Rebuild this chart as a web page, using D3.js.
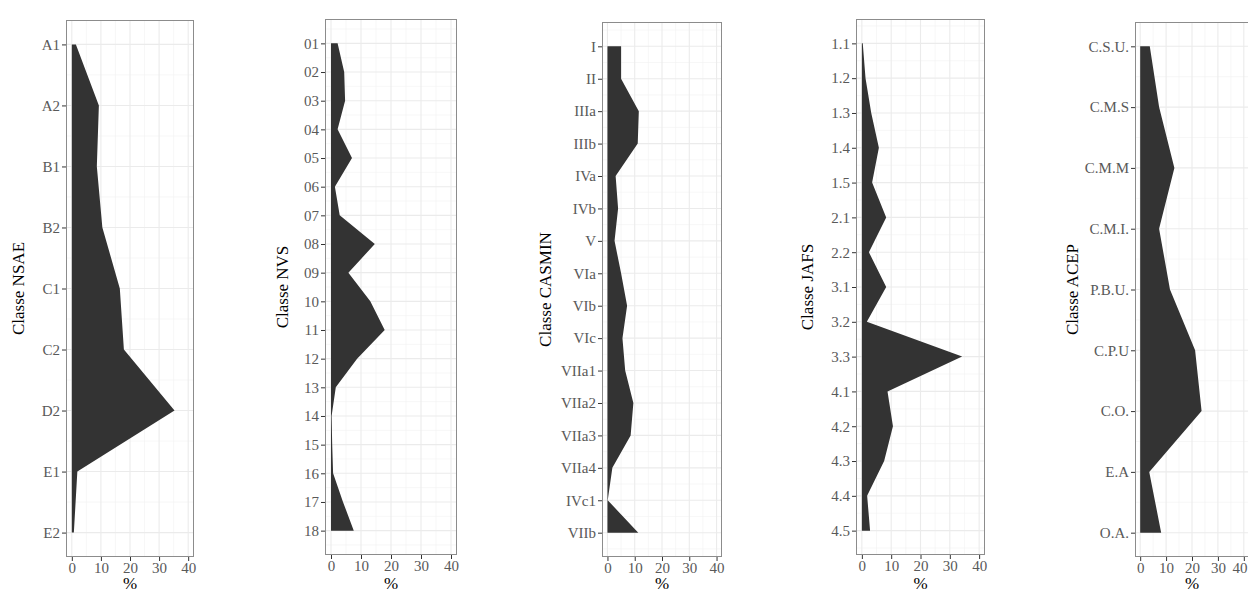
<!DOCTYPE html>
<html><head><meta charset="utf-8">
<script src="https://cdn.jsdelivr.net/npm/d3@7"></script>
<style>body{margin:0;background:#fff;} svg{display:block;}</style>
</head><body>
<svg id="chart" width="1248" height="592"></svg>
<script>
// ---- data ----
const nsaeCats = ["A1","A2","B1","B2","C1","C2","D2","E1","E2"];
const nsaeVals = [1.4, 9.3, 8.6, 10.5, 16.5, 17.9, 35.3, 1.9, 0.7];

const nvsCats = ["01","02","03","04","05","06","07","08","09","10","11","12","13","14","15","16","17","18"];
const nvsVals = [2.2, 4.4, 4.7, 2.2, 7.0, 1.3, 2.9, 14.6, 5.8, 13.1, 17.9, 8.7, 1.6, 0.2, 0.4, 0.7, 4.0, 7.6];

const casminCats = ["I","II","IIIa","IIIb","IVa","IVb","V","VIa","VIb","VIc","VIIa1","VIIa2","VIIa3","VIIa4","IVc1","VIIb"];
const casminVals = [5.0, 5.0, 11.5, 11.1, 3.0, 3.9, 2.6, 5.0, 7.2, 5.5, 6.5, 9.5, 8.5, 1.8, 0.1, 11.3];

const jafsCats = ["1.1","1.2","1.3","1.4","1.5","2.1","2.2","3.1","3.2","3.3","4.1","4.2","4.3","4.4","4.5"];
const jafsVals = [0.3, 1.25, 3.2, 5.8, 3.5, 8.3, 2.4, 8.3, 1.7, 34.2, 8.75, 10.6, 7.6, 1.8, 2.8];

const acepCats = ["C.S.U.","C.M.S","C.M.M","C.M.I.","P.B.U.","C.P.U","C.O.","E.A","O.A."];
const acepVals = [3.7, 7.3, 13.2, 7.3, 11.5, 21.2, 23.7, 3.5, 8.1];

const xTicks = [0, 10, 20, 30, 40];
const xMinor = [5, 15, 25, 35];
const xTitle = "%";

const panels = [
  {title: "Classe NSAE",   cats: nsaeCats,   vals: nsaeVals,   left: 66,   right: 194,  top: 20, bottom: 557, tx: 18},
  {title: "Classe NVS",    cats: nvsCats,    vals: nvsVals,    left: 325,  right: 457,  top: 19, bottom: 555, tx: 282},
  {title: "Classe CASMIN", cats: casminCats, vals: casminVals, left: 602,  right: 722,  top: 22, bottom: 557, tx: 545},
  {title: "Classe JAFS",   cats: jafsCats,   vals: jafsVals,   left: 856,  right: 985,  top: 19, bottom: 555, tx: 807},
  {title: "Classe ACEP",   cats: acepCats,   vals: acepVals,   left: 1135, right: 1249, top: 22, bottom: 557, tx: 1072}
];

const W = 1248;
const svg = d3.select("#chart");
const FONT = "'Liberation Serif', 'DejaVu Serif', serif";

panels.forEach((p, pi) => {
  const n = p.cats.length;
  const pad = 0.05 * (n - 1);
  const y = d3.scaleLinear().domain([1 - pad, n + pad]).range([p.top, p.bottom]);
  const x = d3.scaleLinear().domain([-2, 42]).range([p.left, p.right]);
  const g = svg.append("g");

  const clipId = "clip" + pi;
  svg.append("clipPath").attr("id", clipId).append("rect")
    .attr("x", p.left).attr("y", p.top).attr("width", p.right - p.left).attr("height", p.bottom - p.top);

  const grid = g.append("g").attr("clip-path", `url(#${clipId})`);
  const yMinor = d3.range(0.5, n + 1, 1);
  grid.selectAll(".ymin").data(yMinor).join("line")
    .attr("x1", p.left).attr("x2", p.right).attr("y1", d => y(d)).attr("y2", d => y(d))
    .attr("stroke", "#f2f2f2").attr("stroke-width", 0.6);
  grid.selectAll(".xmin").data(xMinor).join("line")
    .attr("y1", p.top).attr("y2", p.bottom).attr("x1", d => x(d)).attr("x2", d => x(d))
    .attr("stroke", "#f2f2f2").attr("stroke-width", 0.6);
  grid.selectAll(".ymaj").data(d3.range(1, n + 1)).join("line")
    .attr("x1", p.left).attr("x2", p.right).attr("y1", d => y(d)).attr("y2", d => y(d))
    .attr("stroke", "#ebebeb").attr("stroke-width", 1.1);
  grid.selectAll(".xmaj").data(xTicks).join("line")
    .attr("y1", p.top).attr("y2", p.bottom).attr("x1", d => x(d)).attr("x2", d => x(d))
    .attr("stroke", "#ebebeb").attr("stroke-width", 1.1);

  const area = d3.area()
    .y((d, i) => y(i + 1))
    .x0(() => x(0))
    .x1(d => x(d));
  grid.append("path").datum(p.vals).attr("d", area).attr("fill", "#333333");

  g.append("rect").attr("x", p.left + 0.5).attr("y", p.top + 0.5)
    .attr("width", p.right - p.left - 1).attr("height", p.bottom - p.top - 1)
    .attr("fill", "none").attr("stroke", "#8c8c8c").attr("stroke-width", 1);

  const yAxis = d3.axisLeft(y).tickValues(d3.range(1, n + 1))
    .tickFormat(d => p.cats[d - 1]).tickSize(4).tickPadding(2);
  const ya = g.append("g").attr("transform", `translate(${p.left},0)`).call(yAxis);
  ya.select(".domain").remove();
  ya.selectAll("line").attr("stroke", "#333");
  ya.selectAll("text").attr("fill", "#595959").style("font-family", FONT).style("font-size", "15px");

  const xAxis = d3.axisBottom(x).tickValues(xTicks).tickSize(4).tickPadding(1);
  const xa = g.append("g").attr("transform", `translate(0,${p.bottom})`).call(xAxis);
  xa.select(".domain").remove();
  xa.selectAll("line").attr("stroke", "#333");
  xa.selectAll("text").attr("fill", "#595959").style("font-family", FONT).style("font-size", "15px");
  // keep the last tick label inside the picture when the panel touches the right edge
  xa.selectAll(".tick").each(function(d) {
    const t = d3.select(this).select("text");
    const tx = x(d);
    if (tx + 8 > W) {
      t.attr("text-anchor", "end").attr("x", (W - 1) - tx);
    }
  });

  g.append("text").attr("x", (x(0) + x(40)) / 2).attr("y", 589)
    .attr("text-anchor", "middle").style("font-family", FONT).style("font-size", "17px")
    .attr("fill", "#000").text(xTitle);
  g.append("text").attr("transform", `translate(${p.tx},${(p.top + p.bottom) / 2}) rotate(-90)`)
    .attr("text-anchor", "middle").attr("dy", "0.35em")
    .style("font-family", FONT).style("font-size", "17px").attr("fill", "#000").text(p.title);
});
</script>
</body></html>
